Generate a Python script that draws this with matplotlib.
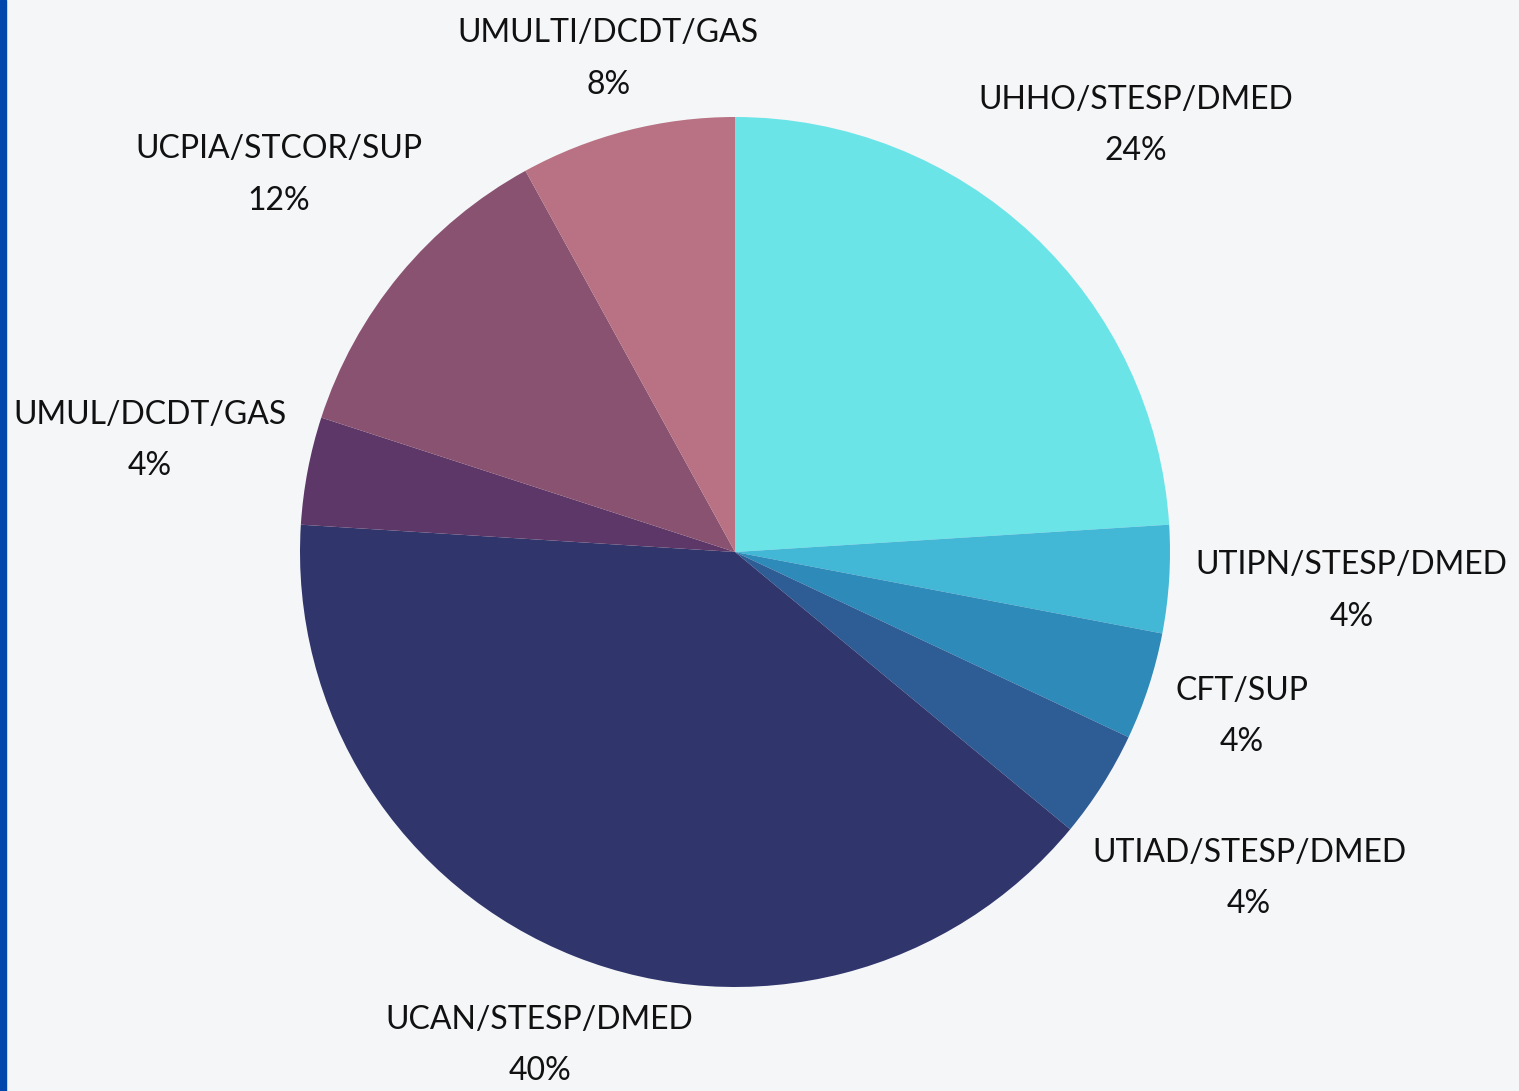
import matplotlib
matplotlib.use("Agg")
import matplotlib.pyplot as plt
from matplotlib.patches import Rectangle
import numpy as np

# slices, clockwise from 12 o'clock
labels = ["UHHO/STESP/DMED", "UTIPN/STESP/DMED", "CFT/SUP", "UTIAD/STESP/DMED",
          "UCAN/STESP/DMED", "UMUL/DCDT/GAS", "UCPIA/STCOR/SUP", "UMULTI/DCDT/GAS"]
shares = [24, 4, 4, 4, 40, 4, 12, 8]
colors = ["#6BE4E8", "#42B7D6", "#2D8AB9", "#2E5D96",
          "#30356C", "#5D3767", "#895270", "#B87283"]

# how far each label sits from the centre (in radii)
label_dist = [1.345, 1.42, 1.225, 1.40, 1.22, 1.37, 1.36, 1.17]

W, H = 1519, 1091
cx, cy, r = 735, 552, 435

plt.rcParams['font.family'] = ['Lato', 'DejaVu Sans']

fig = plt.figure(figsize=(W / 100, H / 100), dpi=100)
fig.patch.set_facecolor("#F4F6F8")
ax = fig.add_axes([0, 0, 1, 1])
ax.set_facecolor("#F4F6F8")

wedges, _ = ax.pie(shares, colors=colors, startangle=90, counterclock=False,
                   radius=1, wedgeprops=dict(linewidth=0))

total = sum(shares)
for w, lab, val, d in zip(wedges, labels, shares, label_dist):
    ang = np.deg2rad((w.theta1 + w.theta2) / 2)
    ax.text(d * np.cos(ang), d * np.sin(ang), f"{lab}\n{val / total:.0%}",
            ha="center", va="center", fontsize=23, color="#111111",
            linespacing=1.9)

ax.set_xlim(-cx / r, (W - cx) / r)
ax.set_ylim(-(H - cy) / r, cy / r)
ax.set_aspect("auto")
ax.axis("off")

# blue strip on the left edge
fig.patches.append(Rectangle((0, 0), 6 / W, 1, transform=fig.transFigure,
                             color="#0047AB", zorder=5))

fig.savefig("out.png", dpi=100, facecolor=fig.get_facecolor())
